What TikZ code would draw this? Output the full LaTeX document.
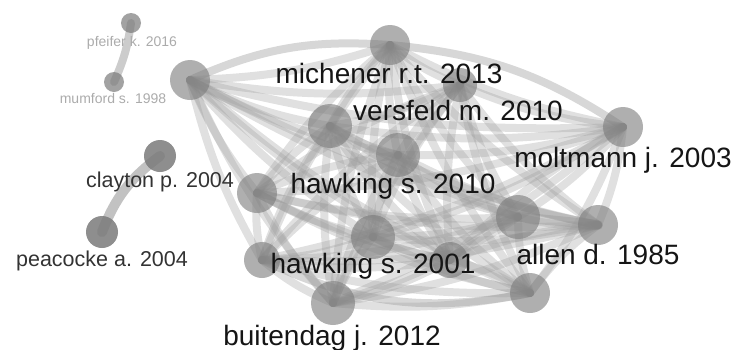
\documentclass[tikz,border=0pt]{standalone}
\usepackage{fontspec}
\setmainfont{Liberation Sans}
\usetikzlibrary{backgrounds}
\pgfdeclarelayer{edges}
\pgfsetlayers{edges,main}
\definecolor{edgegray}{HTML}{9A9A9A}
\definecolor{nodegray}{HTML}{7A7A7A}
\definecolor{lbldark}{HTML}{151515}
\definecolor{lblmid}{HTML}{333333}
\definecolor{lbllight}{HTML}{ABABAB}
\tikzset{
  vnode/.style={circle, fill=nodegray, fill opacity=0.6, draw=none, inner sep=0pt, minimum size=#1},
  vedge/.style={draw=edgegray, line width=8pt, draw opacity=0.3, line cap=round},
  biglbl/.style={anchor=base, text=lbldark, font=\fontsize{28}{30}\selectfont, inner sep=0pt},
  midlbl/.style={anchor=base, text=lblmid, font=\fontsize{21.5}{24}\selectfont, inner sep=0pt},
  smalllbl/.style={anchor=base, text=lbllight, font=\fontsize{14}{16}\selectfont, inner sep=0pt},
}
\begin{document}
\begin{tikzpicture}[x=1pt,y=-1pt]
\useasboundingbox (0,0) rectangle (737,349);
% main cluster nodes
\node[vnode=40pt] (A) at (190,80) {};
\node[vnode=40pt] (B) at (390,45) {};
\node[vnode=44pt] (C) at (330,126) {};
\node[vnode=34pt] (D) at (460,85) {};
\node[vnode=44pt] (E) at (398,155) {};
\node[vnode=40pt] (F) at (257,193) {};
\node[vnode=36pt] (G) at (262,260) {};
\node[vnode=44pt] (H) at (373,237) {};
\node[vnode=44pt] (I) at (333,303) {};
\node[vnode=44pt] (J) at (518,217) {};
\node[vnode=40pt] (K) at (598,225) {};
\node[vnode=40pt] (L) at (530,293) {};
\node[vnode=40pt] (M) at (623,127) {};
\node[vnode=36pt] (N) at (450,260) {};
% small clusters
\node[vnode=20pt, fill opacity=0.7] (pf) at (131,23) {};
\node[vnode=20pt, fill opacity=0.7] (mu) at (114,82) {};
\node[vnode=32pt, fill opacity=0.85] (cl) at (160,156) {};
\node[vnode=32pt, fill opacity=0.85] (pe) at (102,232) {};
\begin{pgfonlayer}{edges}
\foreach \a [count=\i] in {A,B,C,D,E,F,G,H,I,J,K,L,M,N}{
  \foreach \b [count=\j] in {A,B,C,D,E,F,G,H,I,J,K,L,M,N}{
    \ifnum\j>\i
      \draw[vedge] (\a.center) to[bend right=8] (\b.center);
    \fi
  }
}
\draw[vedge, draw opacity=0.4] (A.center) to[bend left=14] (B.center);
\draw[vedge, draw opacity=0.4] (B.center) to[bend left=14] (M.center);
\draw[vedge, draw opacity=0.4] (G.center) to[bend right=18] (L.center);
\draw[vedge, draw opacity=0.45, line width=10pt] (J.center) -- (K.center);
\draw[vedge, draw opacity=0.5, line width=8pt] (pf.center) to[bend left=8] (mu.center);
\draw[vedge, draw opacity=0.6, line width=10pt] (cl.center) to[bend right=16] (pe.center);
\end{pgfonlayer}
% labels
\node[biglbl] (lmi) at (389,83) {michener r.t. 2013};
\node[biglbl] (lve) at (458,120) {versfeld m. 2010};
\node[biglbl] (lh10) at (393,193) {hawking s. 2010};
\node[biglbl] (lmo) at (623,167) {moltmann j. 2003};
\node[biglbl] (lal) at (598,264) {allen d. 1985};
\node[biglbl] (lh01) at (373,273) {hawking s. 2001};
\node[biglbl] (lbu) at (332,345) {buitendag j. 2012};
\node[midlbl] (lcl) at (160,187) {clayton p. 2004};
\node[midlbl] (lpe) at (102,266) {peacocke a. 2004};
\node[smalllbl] (lpf) at (132,46) {pfeifer k. 2016};
\node[smalllbl] (lmu) at (113,103) {mumford s. 1998};
\end{tikzpicture}
\end{document}
